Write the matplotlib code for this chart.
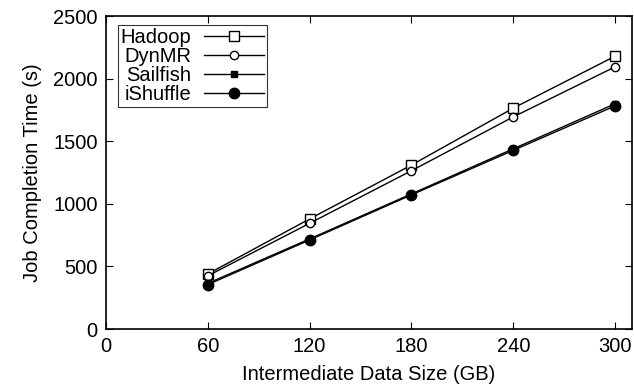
import matplotlib
matplotlib.use('Agg')
import matplotlib.pyplot as plt

plt.rcParams['font.family'] = ['Liberation Sans', 'DejaVu Sans']

# 数据
sizes = [60, 120, 180, 240, 300]
hadoop = [440, 880, 1310, 1765, 2180]
dynmr = [425, 845, 1265, 1695, 2095]
sailfish = [365, 720, 1080, 1440, 1800]
ishuffle = [355, 712, 1072, 1428, 1783]

fig = plt.figure(figsize=(6.34, 3.84), dpi=100)
ax = fig.add_axes([0.167, 0.143, 0.830, 0.815])

ax.plot(sizes, hadoop, color='black', lw=1, marker='s', ms=7.5, mfc='white', mec='black', label='Hadoop')
ax.plot(sizes, dynmr, color='black', lw=1, marker='o', ms=6, mfc='white', mec='black', label='DynMR')
ax.plot(sizes, sailfish, color='black', lw=1, marker='s', ms=4.5, mfc='black', mec='black', label='Sailfish')
ax.plot(sizes, ishuffle, color='black', lw=1, marker='o', ms=7.5, mfc='black', mec='black', label='iShuffle')

ax.set_xlim(0, 310)
ax.set_ylim(0, 2500)
ax.set_xticks([0, 60, 120, 180, 240, 300])
ax.set_yticks([0, 500, 1000, 1500, 2000, 2500])
ax.tick_params(direction='in', top=True, right=True, labelsize=14.5, length=5, width=0.8, pad=6)
for s in ax.spines.values():
    s.set_linewidth(1.2)

ax.set_xlabel('Intermediate Data Size (GB)', fontsize=14.5, labelpad=6)
ax.set_ylabel('Job Completion Time (s)', fontsize=14.5, labelpad=8)

leg = ax.legend(loc='upper left', bbox_to_anchor=(0.015, 0.985), markerfirst=False, fontsize=14.5,
                frameon=True, fancybox=False, edgecolor='black', handlelength=3.0,
                labelspacing=0.0, borderpad=0.15, handletextpad=0.6, borderaxespad=0.2)
leg.get_frame().set_linewidth(0.8)
for t in leg.get_texts():
    t.set_ha('right')
leg._legend_box.align = 'right'

fig.savefig('out.png', dpi=100)
